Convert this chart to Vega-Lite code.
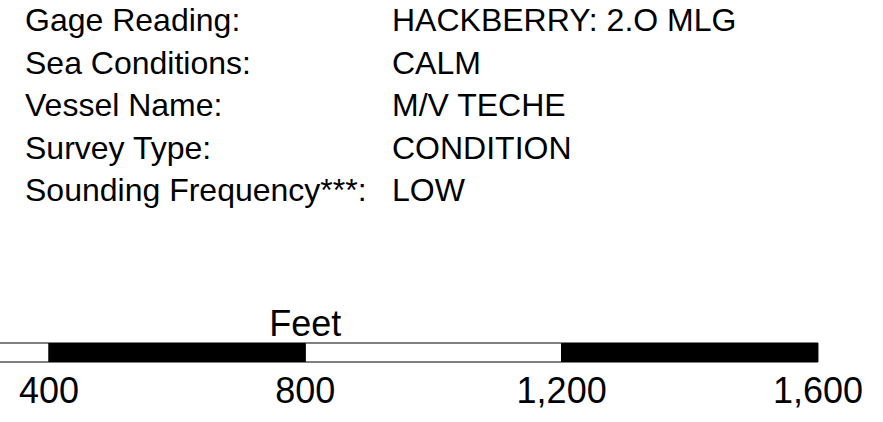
{
  "$schema": "https://vega.github.io/schema/vega-lite/v6.json",
  "width": 883,
  "height": 422,
  "autosize": "none",
  "padding": 0,
  "background": "white",
  "config": {"view": {"stroke": null}, "text": {"font": "Liberation Sans", "color": "black"}},
  "layer": [
    {
      "data": {"values": [
        {"row": 1, "label": "Gage Reading:", "entry": "HACKBERRY: 2.O MLG"},
        {"row": 2, "label": "Sea Conditions:", "entry": "CALM"},
        {"row": 3, "label": "Vessel Name:", "entry": "M/V TECHE"},
        {"row": 4, "label": "Survey Type:", "entry": "CONDITION"},
        {"row": 5, "label": "Sounding Frequency***:", "entry": "LOW"}
      ]},
      "transform": [{"fold": ["label", "entry"], "as": ["column", "text"]}],
      "mark": {"type": "text", "align": "left", "baseline": "alphabetic", "fontSize": 32},
      "encoding": {
        "x": {"field": "column", "type": "nominal", "scale": {"type": "point", "domain": ["label", "entry"], "range": [25, 392], "padding": 0}, "axis": null},
        "y": {"field": "row", "type": "ordinal", "scale": {"type": "point", "range": [31, 201], "padding": 0}, "axis": null},
        "text": {"field": "text"}
      }
    },
    {
      "data": {"values": [
        {"from": 0, "to": 400, "shade": "open"},
        {"from": 400, "to": 800, "shade": "filled"},
        {"from": 800, "to": 1200, "shade": "open"},
        {"from": 1200, "to": 1600, "shade": "filled"}
      ]},
      "layer": [
        {
          "mark": {"type": "rect", "clip": true, "stroke": "black", "strokeWidth": 1},
          "encoding": {
            "x": {"field": "from", "type": "quantitative", "scale": {"domain": [323.5, 1701.5], "nice": false, "zero": false}, "axis": null},
            "x2": {"field": "to"},
            "y": {"datum": "bar", "type": "nominal", "scale": {"type": "band", "range": [343, 362], "paddingInner": 0, "paddingOuter": 0}, "axis": null},
            "fill": {"field": "shade", "type": "nominal", "scale": {"domain": ["open", "filled"], "range": ["white", "black"]}, "legend": null}
          }
        },
        {
          "mark": {"type": "text", "align": "center", "baseline": "alphabetic", "fontSize": 36},
          "encoding": {
            "x": {"field": "to", "type": "quantitative"},
            "y": {"datum": "ticks", "type": "nominal", "scale": {"type": "point", "range": [403, 403], "padding": 0}, "axis": null},
            "text": {"field": "to", "type": "quantitative", "format": ","}
          }
        },
        {
          "data": {"values": [{"unit": "Feet"}]},
          "mark": {"type": "text", "align": "center", "baseline": "alphabetic", "fontSize": 36},
          "encoding": {
            "x": {"datum": 800, "type": "quantitative"},
            "y": {"datum": "title", "type": "nominal", "scale": {"type": "point", "range": [336, 336], "padding": 0}, "axis": null},
            "text": {"field": "unit"}
          }
        }
      ],
      "resolve": {"scale": {"y": "independent"}}
    }
  ],
  "resolve": {"scale": {"x": "independent", "y": "independent"}}
}
